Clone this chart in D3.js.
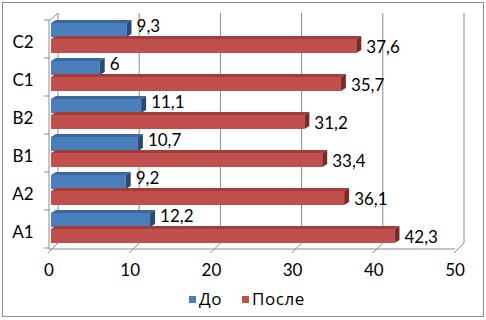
<!DOCTYPE html>
<html><head><meta charset="utf-8">
<script src="https://cdn.jsdelivr.net/npm/d3@7"></script>
<style>body{margin:0;background:#fff}svg text{font-family:Lato,"Open Sans",sans-serif;fill:#000}</style>
</head><body><svg id="c" width="486" height="320"></svg>
<script>
const categories = ["A1","A2","B1","B2","C1","C2"];
const seriesNames = ["До","После"];
const valuesBefore = [12.2, 9.2, 10.7, 11.1, 6, 9.3];
const valuesAfter = [42.3, 36.1, 33.4, 31.2, 35.7, 37.6];
const tickValues = [0,10,20,30,40,50];

const svg = d3.select("#c");
const x = d3.scaleLinear().domain([0,50]).range([49,455]);
const y = d3.scaleBand().domain(categories).range([248,20]);
const DX = 9, DYF = -6;
const fmt = v => String(v).replace(".", ",");
const gridC = "#8a8a8a";
const FS = 17;

// outer border
svg.append("rect").attr("x",2.5).attr("y",2.5).attr("width",481).attr("height",314)
  .attr("fill","#fff").attr("stroke","#8c8c8c").attr("stroke-width",1);

// back wall gridlines
tickValues.forEach(v=>{
  svg.append("line").attr("x1",x(v)+DX).attr("x2",x(v)+DX).attr("y1",13).attr("y2",249+DYF)
    .attr("stroke",gridC);
});
// floor slants and ticks
tickValues.forEach(v=>{
  svg.append("line").attr("x1",x(v)-1).attr("y1",253).attr("x2",x(v)+DX).attr("y2",249+DYF)
    .attr("stroke",gridC);
});
// front axis
svg.append("line").attr("x1",x(0)).attr("x2",x(50)).attr("y1",249).attr("y2",249).attr("stroke",gridC);
// left wall
svg.append("line").attr("x1",x(0)).attr("x2",x(0)).attr("y1",249).attr("y2",21).attr("stroke",gridC);
svg.append("line").attr("x1",x(0)).attr("x2",x(0)+DX).attr("y1",21).attr("y2",13).attr("stroke",gridC);
// category ticks
const bounds = categories.map(c=>y(c)).concat([y(categories[0])+y.bandwidth()]);
bounds.forEach(b=>{
  svg.append("line").attr("x1",44).attr("x2",x(0)).attr("y1",b).attr("y2",b).attr("stroke",gridC);
});

// bars
const series = [
  {name:seriesNames[0], vals:valuesBefore, face:"#4a7ebb", top:"#3a67a0", side:"#274b78", off:0, lab:6},
  {name:seriesNames[1], vals:valuesAfter, face:"#c0504d", top:"#a33d3a", side:"#7f2826", off:16, lab:27}
];
const cx = 5, cy = -3;
series.forEach(s=>{
  categories.forEach((c,i)=>{
    const v = s.vals[i];
    const bt = y(c) + s.off;
    const x0 = x(0)+2, x1 = x(v)+2;
    const fy0 = bt+3, fy1 = bt+17;
    const g = svg.append("g");
    g.append("path").attr("d",`M${x0},${fy0}L${x1},${fy0}L${x1+cx},${fy0+cy}L${x0+cx},${fy0+cy}Z`).attr("fill",s.top);
    g.append("rect").attr("x",x0).attr("y",fy0).attr("width",x1-x0).attr("height",fy1-fy0).attr("fill",s.face);
    g.append("path").attr("d",`M${x1},${fy0}L${x1+cx},${fy0+cy}L${x1+cx},${fy1+cy}L${x1},${fy1}Z`).attr("fill",s.side);
    svg.append("text").attr("x",x1+cx+5).attr("y",y(c)+s.lab).attr("dy","0.35em")
      .attr("font-size",FS).text(fmt(v));
  });
});

// category labels
categories.forEach(c=>{
  svg.append("text").attr("x",23).attr("y",y(c)+y.bandwidth()/2+3).attr("dy","0.35em")
    .attr("text-anchor","middle").attr("font-size",FS).text(c);
});
// x tick labels
tickValues.forEach(v=>{
  svg.append("text").attr("x",x(v)).attr("y",270).attr("dy","0.35em")
    .attr("text-anchor","middle").attr("font-size",FS).text(v);
});
// legend
const lg = [{n:seriesNames[0],c:"#4a7ebb",x:189},{n:seriesNames[1],c:"#c0504d",x:242}];
lg.forEach(l=>{
  svg.append("rect").attr("x",l.x).attr("y",296).attr("width",7).attr("height",7).attr("fill",l.c);
  svg.append("text").attr("x",l.x+10).attr("y",299).attr("dy","0.35em")
    .style("font-family","'Open Sans',sans-serif").attr("font-size",17)
    .attr("letter-spacing",0.6).text(l.n);
});
</script></body></html>
